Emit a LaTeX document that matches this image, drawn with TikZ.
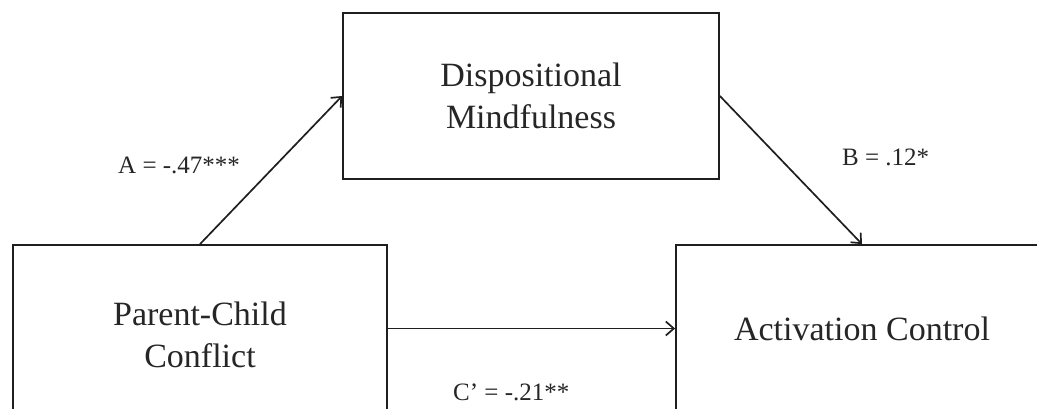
\documentclass[tikz,border=0pt]{standalone}
\usepackage{fontspec}
\setmainfont{Liberation Serif}
\usetikzlibrary{arrows.meta}
\begin{document}
\begin{tikzpicture}[x=1pt,y=-1pt,
  box/.style={draw=black!88,line width=1.8pt,align=center,font=\fontsize{34}{42}\selectfont,inner sep=0pt,text=black!85},
  lab/.style={font=\fontsize{25}{30}\selectfont,inner sep=0pt,text=black!85},
  arr/.style={draw=black!88,line width=1.7pt,-{Straight Barb[length=8pt,width=14pt]}}]
\useasboundingbox (0,0) rectangle (1037,408);
\clip (0,0) rectangle (1037,408);
\fill[white] (0,0) rectangle (1037,408);
\node[box,minimum width=376pt,minimum height=166pt] (dm) at (531,96) {Dispositional\\Mindfulness};
\node[box,minimum width=374pt,minimum height=179pt] (pc) at (200,334.5) {Parent-Child\\Conflict};
\node[box,minimum width=372pt,minimum height=167pt] (ac) at (862,328.5) {Activation Control};
\draw[arr] (pc.north) -- (dm.west);
\draw[arr] (dm.east) -- (ac.north);
\draw[arr] (pc.east |- ac.west) -- (ac.west);
\node[lab,anchor=base west] (la) at (118,173) {A = -.47***};
\node[lab,anchor=base west] (lb) at (842,165) {B = .12*};
\node[lab,anchor=base west] (lc) at (453,400) {C’ = -.21**};
\end{tikzpicture}
\end{document}
